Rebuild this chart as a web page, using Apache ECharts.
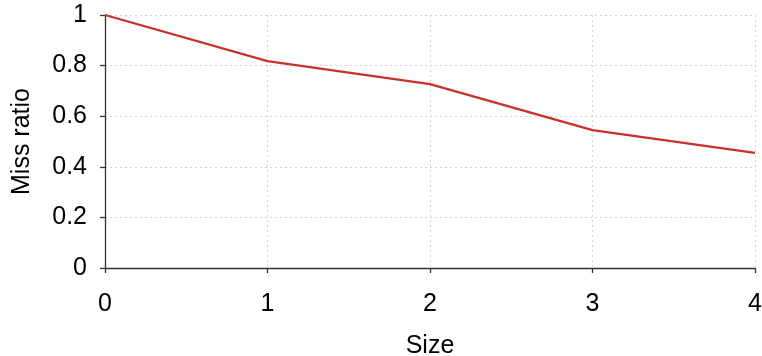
<!DOCTYPE html>
<html>
<head>
<meta charset="utf-8">
<script src="https://cdn.jsdelivr.net/npm/echarts@6/dist/echarts.min.js"></script>
<style>html,body{margin:0;padding:0;background:#fff;}#c{width:762px;height:356px;}</style>
</head>
<body>
<div id="c"></div>
<script>
const sizes = [0, 1, 2, 3, 4];
const missRatio = [1.0, 0.818, 0.727, 0.545, 0.455];
const xName = 'Size';
const yName = 'Miss ratio';

const chart = echarts.init(document.getElementById('c'), null, {renderer: 'canvas'});
const font = 'Liberation Sans, Arial, sans-serif';
const axisCol = '#333';
const gridLine = {show: true, lineStyle: {color: '#d4d4d4', type: [2, 3], width: 1}};
chart.setOption({
  animation: false,
  grid: {left: 105, right: 7, top: 15, bottom: 88, containLabel: false, outerBoundsMode: 'none'},
  xAxis: {
    type: 'value', min: 0, max: 4, interval: 1,
    name: xName, nameLocation: 'middle', nameGap: 66,
    nameTextStyle: {fontFamily: font, fontSize: 25, color: '#000'},
    axisLine: {show: true, lineStyle: {color: axisCol, width: 1.3}},
    axisTick: {show: true, length: 5, lineStyle: {color: axisCol, width: 1.3}},
    axisLabel: {fontFamily: font, fontSize: 25, color: '#000', margin: 24},
    splitLine: gridLine
  },
  yAxis: {
    type: 'value', min: 0, max: 1, interval: 0.2,
    name: yName, nameLocation: 'middle', nameGap: 70,
    nameTextStyle: {fontFamily: font, fontSize: 25, color: '#000'},
    axisLine: {show: true, lineStyle: {color: axisCol, width: 1.3}},
    axisTick: {show: true, length: 5, lineStyle: {color: axisCol, width: 1.3}},
    axisLabel: {fontFamily: font, fontSize: 25, color: '#000', margin: 18},
    splitLine: gridLine
  },
  series: [{
    type: 'line',
    data: sizes.map((s, i) => [s, missRatio[i]]),
    showSymbol: false,
    lineStyle: {color: '#c9302c', width: 2.3},
    itemStyle: {color: '#c9302c'}
  }]
});
</script>
</body>
</html>
